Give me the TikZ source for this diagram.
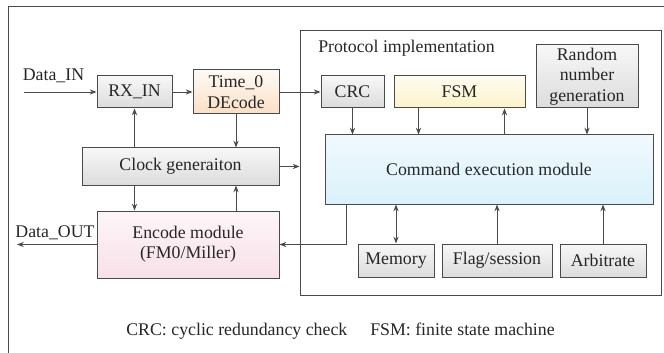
\documentclass[tikz,border=0pt]{standalone}
\usepackage{fontspec}
\setmainfont{Liberation Serif}
\usetikzlibrary{arrows.meta}

\definecolor{linegray}{HTML}{4A4A4A}
\definecolor{boxgray}{HTML}{DCDCDC}
\definecolor{boxpeach}{HTML}{FBDFC4}
\definecolor{boxyellow}{HTML}{FCF3C8}
\definecolor{boxblue}{HTML}{DAF1FB}
\definecolor{boxpink}{HTML}{F8E0E9}

\begin{document}
\begin{tikzpicture}[x=0.5pt, y=-0.5pt,
        font=\fontsize{8.9}{10.2}\selectfont,
        every node/.style={text=black!85},
        block/.style={draw=linegray, line width=0.5pt, inner sep=0pt, align=center, shade, top color=white},
        grayblock/.style={block, top color=white!97!black, bottom color=boxgray},
        link/.style={draw=linegray, line width=0.45pt, -{Stealth[length=3.4pt, width=2.6pt]}},
        twolink/.style={link, {Stealth[length=3.4pt, width=2.6pt]}-{Stealth[length=3.4pt, width=2.6pt]}}]
        \useasboundingbox (0,0) rectangle (664,353);

        % outer frame
        \draw[linegray, line width=0.5pt] (8,353) -- (8,7) -- (664,7);

        % protocol part
        \node[draw=linegray, line width=0.5pt, minimum width=180.5pt, minimum height=132pt] (proto) at (480.5,163) {};
        \node[] (protolabel) at (406.5,48) {Protocol implementation};

        \node[grayblock, minimum width=37.5pt, minimum height=16pt] (rxin) at (134.5,92) {RX\_IN};
        \node[block, top color=boxpeach!15, bottom color=boxpeach, minimum width=43pt, minimum height=22pt] (timedec) at (236,92) {Time\_0\\DEcode};
        \node[grayblock, minimum width=98.5pt, minimum height=18.5pt] (clk) at (180.5,166.5) {Clock generaiton};
        \node[block, top color=boxpink!30, bottom color=boxpink, minimum width=91pt, minimum height=33.5pt] (enc) at (188,244.5) {Encode module\\(FM0/Miller)};

        \node[grayblock, minimum width=31.5pt, minimum height=16pt] (crc) at (352.5,92) {CRC};
        \node[block, top color=boxyellow!25, bottom color=boxyellow, minimum width=65.5pt, minimum height=16pt] (fsm) at (459.5,92) {FSM};
        \node[grayblock, minimum width=51pt, minimum height=31.5pt] (rng) at (587,76.5) {Random\\number\\generation};
        \node[block, top color=boxblue!40, bottom color=boxblue, minimum width=164pt, minimum height=34.5pt] (cem) at (489,169.5) {Command execution module};

        \node[grayblock, minimum width=38pt, minimum height=16.5pt] (mem) at (396,260.5) {Memory};
        \node[grayblock, minimum width=55pt, minimum height=16.5pt] (flag) at (497,260.5) {Flag/session};
        \node[grayblock, minimum width=43pt, minimum height=16.5pt] (arb) at (603,260.5) {Arbitrate};

        % in and out
        \coordinate (din) at (24,92);
        \coordinate (dout) at (17,244.5);
        \node[] (dinlabel) at (53.5,76) {Data\_IN};
        \node[] (doutlabel) at (55,233) {Data\_OUT};

        \draw[link] (din) -- (rxin);
        \draw[link] (rxin) -- (timedec);
        \draw[link] (timedec) -- (crc);
        \draw[link] (enc) -- (dout);

        \draw[link] (timedec.south) -- (timedec.south |- clk.north);
        \draw[link] (rxin.south |- clk.north) -- (rxin.south);
        \draw[link] (rxin.south |- clk.south) -- (rxin.south |- enc.north);
        \draw[link] (timedec.south |- enc.north) -- (timedec.south |- clk.south);
        \draw[link] (clk.east) -- (clk.east -| proto.west);

        \draw[link] ([xshift=11pt]cem.south west) |- (enc.east);

        \draw[link] (crc.south) -- (crc.south |- cem.north);
        \draw[link] ([xshift=12.5pt]fsm.south west) -- ([xshift=12.5pt]fsm.south west |- cem.north);
        \draw[link] ([xshift=-10.5pt]fsm.south east |- cem.north) -- ([xshift=-10.5pt]fsm.south east);
        \draw[link] (rng.south) -- (rng.south |- cem.north);

        \draw[twolink] (mem.north) -- (mem.north |- cem.south);
        \draw[link] (flag.north) -- (flag.north |- cem.south);
        \draw[link] (arb.north) -- (arb.north |- cem.south);

        % legend
        \node[] (legend) at (340.5,331) {CRC: cyclic redundancy check\hspace{11.5pt}FSM: finite state machine};
\end{tikzpicture}
\end{document}
